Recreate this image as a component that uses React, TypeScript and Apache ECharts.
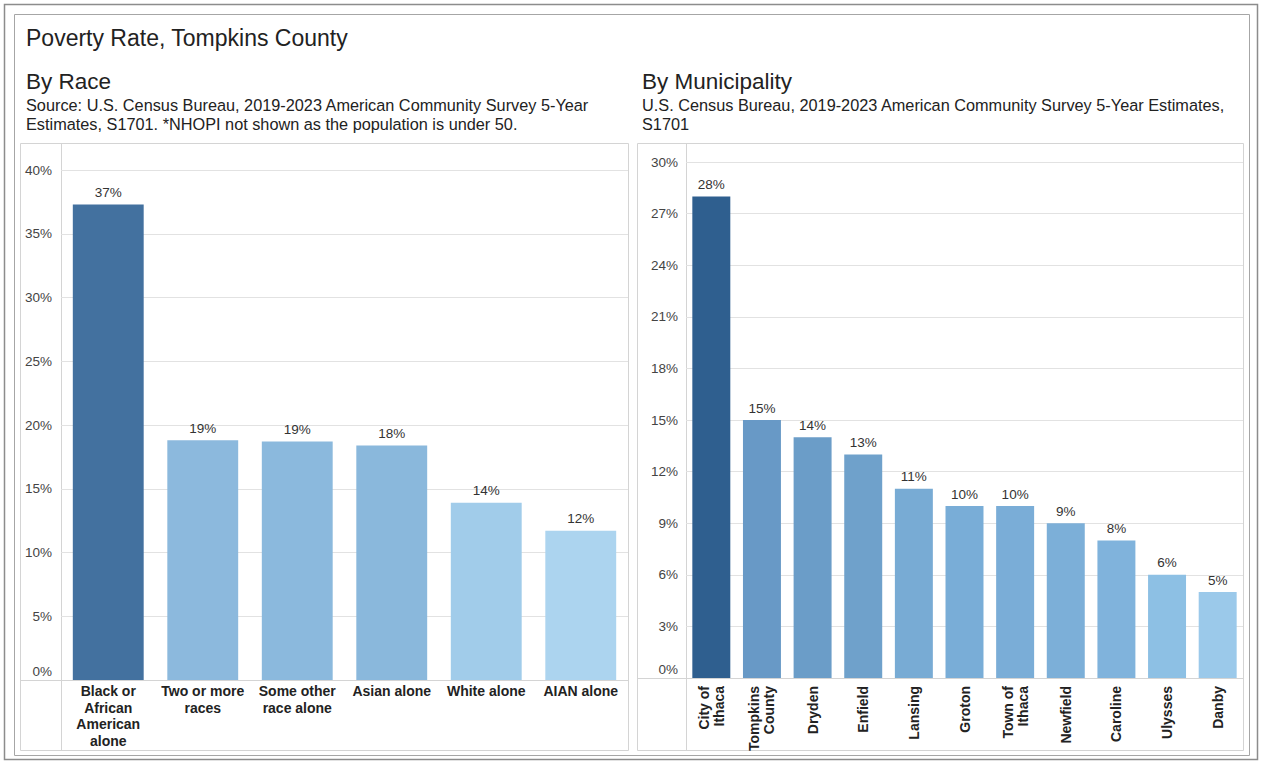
import React, { useEffect, useRef } from "react";
import * as echarts from "echarts";

// Poverty rate by race (percent)
const raceCategories = [
  "Black or\nAfrican\nAmerican\nalone",
  "Two or more\nraces",
  "Some other\nrace alone",
  "Asian alone",
  "White alone",
  "AIAN alone",
];
const raceRates = [37.3, 18.8, 18.7, 18.4, 13.9, 11.7];
const raceColors = ["#43719f", "#8cb9dd", "#8bb9dd", "#8ab8dc", "#a1ccea", "#acd4ef"];
const raceTicks = { min: 0, max: 40, interval: 5 };

// Poverty rate by municipality (percent)
const muniCategories = [
  "City of\nIthaca",
  "Tompkins\nCounty",
  "Dryden",
  "Enfield",
  "Lansing",
  "Groton",
  "Town of\nIthaca",
  "Newfield",
  "Caroline",
  "Ulysses",
  "Danby",
];
const muniRates = [28, 15, 14, 13, 11, 10, 10, 9, 8, 6, 5];
const muniColors = [
  "#2f5f8f", "#6899c6", "#6b9dc8", "#6fa1cb", "#78abd4", "#79add7",
  "#7aadd7", "#7cafd8", "#80b3dc", "#8dc0e4", "#9bc9ea",
];
const muniTicks = { min: 0, max: 30, interval: 3 };

const FONT = "'Liberation Sans', Arial, Helvetica, sans-serif";
const TEXT = "#222";
const AXIS_TEXT = "#444";
const GRID = "#e2e2e2";
const PANEL = "#d4d4d4";

const pctLabel = (v: number) => (v === 0 ? "{z|0%}" : `${v}%`);

function valueAxis(gridIndex: number, ticks: { min: number; max: number; interval: number }, margin: number) {
  return {
    type: "value",
    gridIndex,
    min: ticks.min,
    max: ticks.max,
    interval: ticks.interval,
    axisLine: { show: false },
    axisTick: { show: false },
    splitLine: { lineStyle: { color: GRID, width: 1 } },
    axisLabel: {
      formatter: pctLabel,
      margin,
      fontFamily: FONT,
      fontSize: 13.5,
      color: AXIS_TEXT,
      rich: { z: { fontFamily: FONT, fontSize: 13.5, color: AXIS_TEXT, padding: [0, 0, 18, 0] } },
    },
  };
}

function barSeries(xAxisIndex: number, values: number[], colors: string[]) {
  return {
    type: "bar",
    xAxisIndex,
    yAxisIndex: xAxisIndex,
    barCategoryGap: "25%",
    data: values.map((v, i) => ({ value: v, itemStyle: { color: colors[i] } })),
    label: {
      show: true,
      position: "top",
      distance: 5,
      formatter: (p: any) => `${Math.round(p.value)}%`,
      fontFamily: FONT,
      fontSize: 13.5,
      color: "#333",
    },
  };
}

export default function App() {
  const ref = useRef<HTMLDivElement>(null);

  useEffect(() => {
    document.body.style.margin = "0";
    const chart = echarts.init(ref.current!, undefined, { renderer: "svg" });

    const titleStyle = { fontFamily: FONT, color: TEXT, fontWeight: "normal" as const };

    chart.setOption({
      animation: false,
      backgroundColor: "#ffffff",
      textStyle: { fontFamily: FONT },
      title: [
        { text: "Poverty Rate, Tompkins County", left: 21, top: 21, textStyle: { ...titleStyle, fontSize: 23 } },
        { text: "By Race", left: 21, top: 65, textStyle: { ...titleStyle, fontSize: 22.5 } },
        {
          text: "Source: U.S. Census Bureau, 2019-2023 American Community Survey 5-Year\nEstimates, S1701. *NHOPI not shown as the population is under 50.",
          left: 21,
          top: 90,
          textStyle: { ...titleStyle, fontSize: 16.3, lineHeight: 19 },
        },
        { text: "By Municipality", left: 637, top: 65, textStyle: { ...titleStyle, fontSize: 22.5 } },
        {
          text: "U.S. Census Bureau, 2019-2023 American Community Survey 5-Year Estimates,\nS1701",
          left: 637,
          top: 90,
          textStyle: { ...titleStyle, fontSize: 16.3, lineHeight: 19 },
        },
      ],
      grid: [
        { left: 61, top: 170, width: 567, height: 510 },
        { left: 686, top: 162, width: 557, height: 516 },
      ],
      xAxis: [
        {
          type: "category",
          gridIndex: 0,
          data: raceCategories,
          axisLine: { lineStyle: { color: PANEL } },
          axisTick: { show: false },
          axisLabel: {
            interval: 0,
            margin: 3,
            fontFamily: FONT,
            fontSize: 14,
            fontWeight: "bold",
            lineHeight: 16.5,
            color: TEXT,
          },
        },
        {
          type: "category",
          gridIndex: 1,
          data: muniCategories,
          axisLine: { lineStyle: { color: PANEL } },
          axisTick: { show: false },
          axisLabel: {
            interval: 0,
            rotate: 90,
            margin: 8,
            fontFamily: FONT,
            fontSize: 14,
            fontWeight: "bold",
            lineHeight: 15,
            color: TEXT,
          },
        },
      ],
      yAxis: [valueAxis(0, raceTicks, 9), valueAxis(1, muniTicks, 8)],
      series: [barSeries(0, raceRates, raceColors), barSeries(1, muniRates, muniColors)],
      graphic: [
        // outer frames
        { type: "rect", silent: true, shape: { x: 4.5, y: 4.5, width: 1253, height: 755 }, style: { fill: "none", stroke: "#8c8c8c", lineWidth: 1.5 } },
        { type: "rect", silent: true, shape: { x: 14.5, y: 14.5, width: 1235, height: 741 }, style: { fill: "none", stroke: "#a6a6a6", lineWidth: 1 } },
        // panel borders
        { type: "rect", silent: true, shape: { x: 20.5, y: 143.5, width: 608, height: 607 }, style: { fill: "none", stroke: PANEL, lineWidth: 1 } },
        { type: "rect", silent: true, shape: { x: 637.5, y: 143.5, width: 606, height: 607 }, style: { fill: "none", stroke: PANEL, lineWidth: 1 } },
        // y-axis header separators
        { type: "line", silent: true, shape: { x1: 61.5, y1: 144, x2: 61.5, y2: 750 }, style: { stroke: PANEL, lineWidth: 1 } },
        { type: "line", silent: true, shape: { x1: 686.5, y1: 144, x2: 686.5, y2: 750 }, style: { stroke: PANEL, lineWidth: 1 } },
        // baseline continuation under the y-axis label column
        { type: "line", silent: true, shape: { x1: 21, y1: 680.5, x2: 61, y2: 680.5 }, style: { stroke: PANEL, lineWidth: 1 } },
        { type: "line", silent: true, shape: { x1: 638, y1: 678.5, x2: 686, y2: 678.5 }, style: { stroke: PANEL, lineWidth: 1 } },
      ],
    });

    return () => chart.dispose();
  }, []);

  return <div ref={ref} style={{ width: 1262, height: 763 }} />;
}
